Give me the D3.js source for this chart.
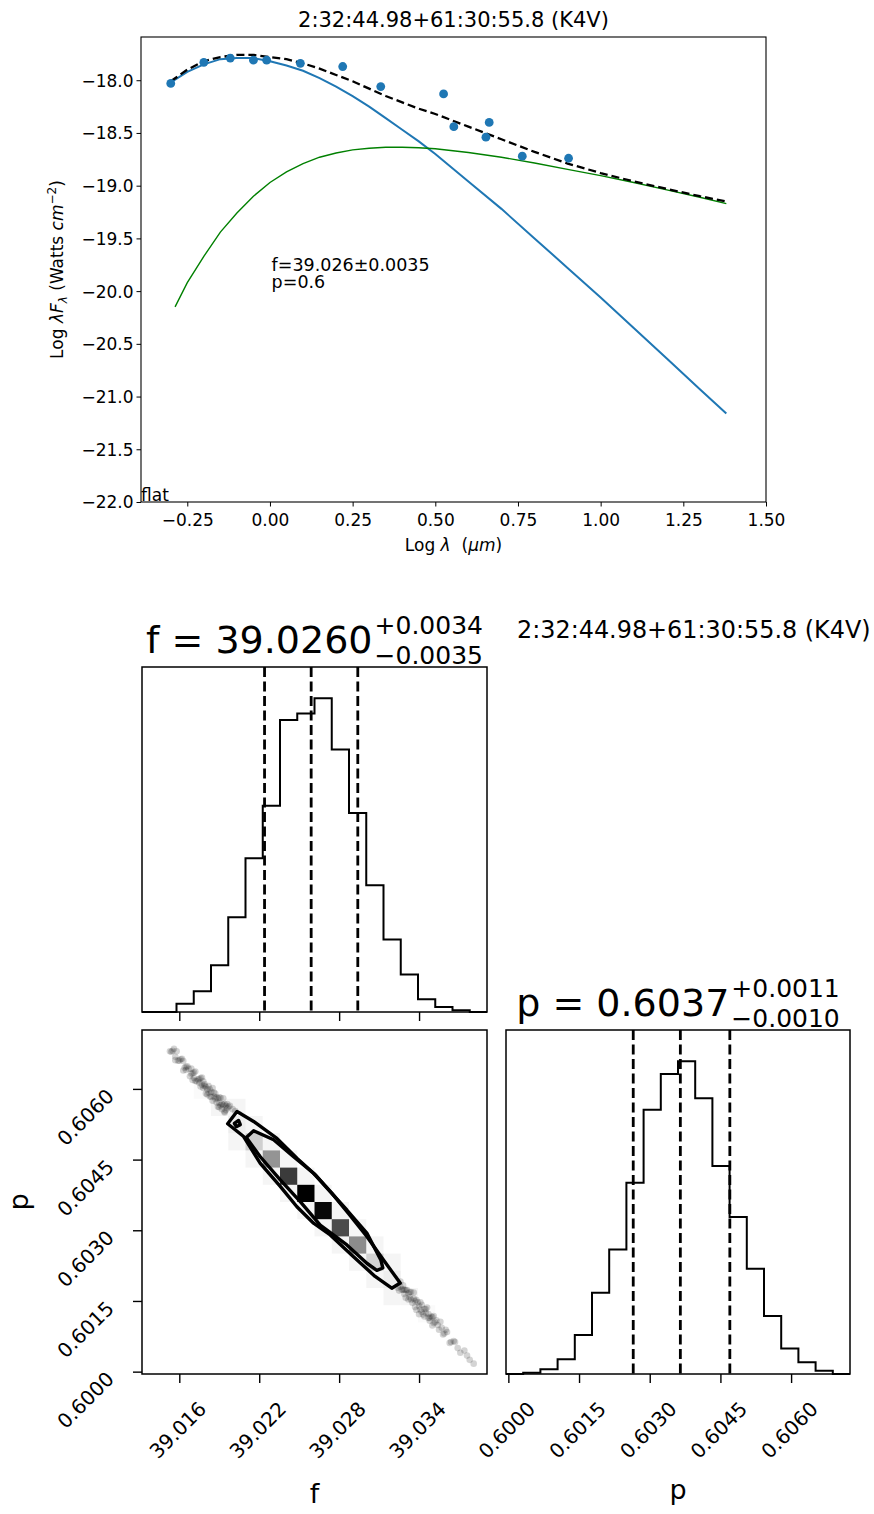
<!DOCTYPE html>
<html><head><meta charset="utf-8">
<script src="https://cdn.jsdelivr.net/npm/d3@7"></script>
<style>body{margin:0;background:#fff} svg text{font-family:"DejaVu Sans";white-space:pre;fill:#000}</style>
</head><body><svg id="c" width="874" height="1514"></svg>
<script>
// ---------------- DATA ----------------
const starTitle = "2:32:44.98+61:30:55.8 (K4V)";
// observed photometry (log lambda [um], log lambda F_lambda)
const obsLogLam  = [-0.30, -0.20, -0.12, -0.05, -0.01, 0.092, 0.22, 0.335, 0.525, 0.556, 0.653, 0.663, 0.763, 0.903];
const obsLogFlux = [-18.03, -17.83, -17.79, -17.81, -17.81, -17.84, -17.87, -18.06, -18.13, -18.44, -18.54, -18.40, -18.72, -18.74];
// stellar photosphere (blue)
const photoLogLam  = [-0.30,-0.25,-0.20,-0.15,-0.10,-0.05,0.00,0.05,0.10,0.15,0.20,0.25,0.30,0.35,0.40,0.45,0.50,0.60,0.70,0.80,0.90,1.00,1.10,1.20,1.30,1.38];
const photoLogFlux = [-18.02,-17.92,-17.85,-17.80,-17.79,-17.79,-17.82,-17.86,-17.91,-17.98,-18.06,-18.15,-18.25,-18.36,-18.47,-18.58,-18.70,-18.96,-19.22,-19.50,-19.78,-20.06,-20.35,-20.64,-20.93,-21.16];
// disk component (green)
const diskLogLam  = [-0.287,-0.25,-0.20,-0.15,-0.10,-0.05,0.00,0.05,0.10,0.15,0.20,0.25,0.30,0.35,0.40,0.45,0.50,0.60,0.70,0.80,0.90,1.00,1.10,1.20,1.30,1.38];
const diskLogFlux = [-20.15,-19.92,-19.67,-19.44,-19.26,-19.10,-18.97,-18.87,-18.79,-18.73,-18.69,-18.66,-18.645,-18.635,-18.635,-18.64,-18.65,-18.685,-18.73,-18.785,-18.845,-18.905,-18.97,-19.04,-19.11,-19.17];
// total model (black dashed)
const totalLogLam  = [-0.30,-0.25,-0.20,-0.15,-0.10,-0.05,0.00,0.05,0.10,0.15,0.20,0.25,0.30,0.35,0.40,0.45,0.50,0.55,0.60,0.65,0.70,0.80,0.90,1.00,1.10,1.20,1.30,1.38];
const totalLogFlux = [-18.01,-17.90,-17.82,-17.78,-17.76,-17.76,-17.78,-17.80,-17.84,-17.89,-17.95,-18.01,-18.08,-18.15,-18.21,-18.27,-18.32,-18.38,-18.44,-18.50,-18.56,-18.68,-18.79,-18.88,-18.96,-19.03,-19.10,-19.15];
const sedXTicks = [-0.25, 0.00, 0.25, 0.50, 0.75, 1.00, 1.25, 1.50];
const sedYTicks = [-22.0, -21.5, -21.0, -20.5, -20.0, -19.5, -19.0, -18.5, -18.0];
const fitNotes = ["f=39.026\u00b10.0035", "p=0.6"];
const modelTag = "flat";

// corner plot
const fRange = [39.0132, 39.0391];
const pRange = [0.59995, 0.60725];
const fTicks = [39.016, 39.022, 39.028, 39.034];
const pTicks = [0.6000, 0.6015, 0.6030, 0.6045, 0.6060];
const fHistCounts = [0,0,25,62,140,283,460,617,873,893,938,785,595,379,217,112,38,15,5,0];
const pHistCounts = [0,4,14,44,117,244,374,575,794,902,940,829,625,472,316,174,77,35,10,0];
const fQuantiles = [39.0224, 39.0259, 39.0294];
const pQuantiles = [0.60265, 0.60365, 0.60470];
const fSummary = {label:"f", value:"39.0260", plus:"0.0034", minus:"0.0035"};
const pSummary = {label:"p", value:"0.6037", plus:"0.0011", minus:"0.0010"};
// 2D density cells (bin index along f, bin index along p from bottom, darkness)
const cellFBin  = [3,4,5,6,7,8,9,10,11,12,13,14,15,16, 5,6,7,8,9,10,11,12,13,14, 5,6,7,8,9,10,11,12,13,14];
const cellPBin  = [16,15,14,13,12,11,10,9,8,7,6,5,4,3, 13,12,11,10,9,8,7,6,5,4, 15,14,13,12,11,10,9,8,7,6];
const cellShade = [0.02,0.04,0.07,0.19,0.42,0.77,1.0,0.97,0.70,0.45,0.18,0.07,0.04,0.02, 0.04,0.04,0.04,0.04,0.04,0.04,0.04,0.04,0.04,0.04, 0.04,0.04,0.04,0.04,0.04,0.04,0.04,0.04,0.04,0.04];
// contours
const outerF = [39.01963,39.02033,39.02158,39.02333,39.02483,39.0262,39.02745,39.0287,39.03008,39.03133,39.03258,39.03195,39.0307,39.02908,39.02733,39.02608,39.02483,39.02358,39.02208,39.02083];
const outerP = [0.60526,0.60552,0.60531,0.60495,0.60453,0.60418,0.60379,0.60336,0.60287,0.60237,0.60188,0.60177,0.60202,0.60244,0.6029,0.60315,0.6035,0.60393,0.60442,0.60499];
const innerF = [39.02103,39.02158,39.02308,39.02458,39.02608,39.02733,39.02858,39.03008,39.03113,39.03128,39.03083,39.03008,39.02858,39.02658,39.02508,39.02358,39.02208];
const innerP = [0.60497,0.60511,0.60492,0.60456,0.60421,0.60382,0.60343,0.60294,0.60237,0.6022,0.60215,0.6023,0.60269,0.60311,0.60361,0.60407,0.60456];
const smallF = [39.02013,39.02045,39.02058,39.02028];
const smallP = [0.60527,0.60533,0.60524,0.6052];
// samples outside the outer contour
const sampleF = [39.0154,39.0157,39.0155,39.0157,39.0160,39.0162,39.0164,39.0166,39.0168,39.0170,39.0172,39.0173,39.0175,39.0177,39.0178,39.0180,39.0181,39.0183,39.0184,39.0185,39.0187,39.0188,39.0189,39.0190,39.0191,39.0192,39.0193,39.0194,39.0195,39.0196,39.0158,39.0163,39.0169,39.0176,39.0179,39.0182,39.0186,39.0171,39.0165,39.0156,
  39.0153,39.0159,39.0161,39.0163,39.0165,39.0167,39.0169,39.0171,39.0172,39.0174,39.0175,39.0176,39.0178,39.0179,39.0180,39.0182,39.0183,39.0184,39.0186,39.0187,39.0188,39.0189,39.0190,39.0191,39.0192,39.0193,39.0194,39.0195,39.0196,39.0197,39.0198,39.0200,39.0202,39.0205,39.0181,39.0177,39.0170,39.0185,39.0190,39.0194,
  39.0322,39.0324,39.0326,39.0327,39.0329,39.0330,39.0331,39.0333,39.0334,39.0335,39.0337,39.0338,39.0339,39.0341,39.0342,39.0343,39.0345,39.0346,39.0347,39.0349,39.0350,39.0352,39.0353,39.0355,39.0357,39.0359,39.0361,39.0364,39.0367,39.0371,39.0374,39.0378,39.0336,39.0340,39.0344,39.0348,39.0351,39.0328,39.0332,39.0356,39.0363,
  39.0319,39.0321,39.0323,39.0325,39.0326,39.0328,39.0329,39.0330,39.0332,39.0333,39.0334,39.0336,39.0337,39.0338,39.0340,39.0341,39.0342,39.0344,39.0345,39.0347,39.0348,39.0350,39.0351,39.0354,39.0358,39.0360,39.0366,39.0369,39.0376,39.0381];
const sampleP = [0.60679,0.60668,0.60681,0.60661,0.60660,0.60664,0.60645,0.60648,0.60627,0.60633,0.60637,0.60616,0.60621,0.60609,0.60616,0.60590,0.60599,0.60599,0.60583,0.60602,0.60579,0.60582,0.60562,0.60582,0.60565,0.60568,0.60580,0.60552,0.60564,0.60568,0.60680,0.60639,0.60643,0.60605,0.60606,0.60592,0.60592,0.60623,0.60647,0.60685,
  0.60680,0.60660,0.60663,0.60659,0.60640,0.60643,0.60632,0.60635,0.60617,0.60620,0.60613,0.60623,0.60602,0.60610,0.60604,0.60606,0.60584,0.60594,0.60584,0.60590,0.60571,0.60580,0.60570,0.60581,0.60557,0.60566,0.60568,0.60555,0.60559,0.60562,0.60564,0.60557,0.60553,0.60546,0.60588,0.60624,0.60619,0.60575,0.60561,0.60550,
  0.60198,0.60178,0.60191,0.60174,0.60174,0.60157,0.60173,0.60158,0.60169,0.60146,0.60150,0.60131,0.60147,0.60132,0.60142,0.60121,0.60125,0.60136,0.60114,0.60117,0.60098,0.60105,0.60109,0.60089,0.60093,0.60081,0.60084,0.60063,0.60063,0.60040,0.60045,0.60025,0.60168,0.60122,0.60133,0.60114,0.60118,0.60174,0.60166,0.60106,0.60061,
  0.60202,0.60189,0.60193,0.60172,0.60180,0.60183,0.60165,0.60173,0.60153,0.60169,0.60153,0.60155,0.60137,0.60152,0.60139,0.60147,0.60127,0.60117,0.60133,0.60122,0.60108,0.60116,0.60103,0.60099,0.60079,0.60089,0.60065,0.60050,0.60034,0.60017];

// ---------------- SED PANEL ----------------
const svg = d3.select("#c");
const SX = [141, 766], SY = [502, 37];
const sx = d3.scaleLinear().domain([-0.39, 1.5]).range(SX);
const sy = d3.scaleLinear().domain([-22, -17.59]).range(SY);

svg.append("text").attr("x", (SX[0]+SX[1])/2).attr("y", 27).attr("text-anchor","middle")
  .attr("font-size", 21).text(starTitle);

const line = d3.line().x(d=>sx(d[0])).y(d=>sy(d[1]));
const zip = (a,b)=>a.map((v,i)=>[v,b[i]]);
const sed = svg.append("g");
sed.append("path").attr("d", line(zip(photoLogLam, photoLogFlux))).attr("fill","none").attr("stroke","#1f77b4").attr("stroke-width",2);
sed.append("path").attr("d", line(zip(diskLogLam, diskLogFlux))).attr("fill","none").attr("stroke","#008000").attr("stroke-width",1.4);
sed.append("path").attr("d", line(zip(totalLogLam, totalLogFlux))).attr("fill","none").attr("stroke","#000").attr("stroke-width",2.3).attr("stroke-dasharray","8,4");
sed.selectAll("circle").data(zip(obsLogLam, obsLogFlux)).join("circle")
  .attr("cx", d=>sx(d[0])).attr("cy", d=>sy(d[1])).attr("r", 4.4).attr("fill","#1f77b4");

const gx = svg.append("g").attr("transform",`translate(0,${SY[0]})`)
  .call(d3.axisBottom(sx).tickValues(sedXTicks).tickSize(4.5).tickFormat(d3.format(".2f")));
gx.select(".domain").remove();
gx.selectAll("text").attr("font-size",17).attr("font-family","DejaVu Sans").attr("dy",null).attr("y",24);
gx.selectAll("line").attr("stroke","#000");
const gy = svg.append("g").attr("transform",`translate(${SX[0]},0)`)
  .call(d3.axisLeft(sy).tickValues(sedYTicks).tickSize(4.5).tickFormat(d3.format(".1f")));
gy.select(".domain").remove();
gy.selectAll("text").attr("font-size",17).attr("font-family","DejaVu Sans").attr("x",-7.5).attr("dy","0.35em");
svg.append("rect").attr("x",SX[0]).attr("y",SY[1]).attr("width",SX[1]-SX[0]).attr("height",SY[0]-SY[1])
  .attr("fill","none").attr("stroke","#000").attr("stroke-width",1.1);

svg.append("text").attr("x", sx(0.005)).attr("y", 271).attr("font-size",17.5).text(fitNotes[0]);
svg.append("text").attr("x", sx(0.005)).attr("y", 288).attr("font-size",17.5).text(fitNotes[1]);
svg.append("text").attr("x", SX[0]).attr("y", 501).attr("font-size",17).text(modelTag);

// axis labels
const xl = svg.append("text").attr("x",(SX[0]+SX[1])/2).attr("y",551).attr("text-anchor","middle").attr("font-size",17);
xl.append("tspan").text("Log ");
xl.append("tspan").attr("font-style","italic").text("\u03bb");
xl.append("tspan").text("  (");
xl.append("tspan").attr("font-style","italic").text("\u03bcm");
xl.append("tspan").text(")");
const yl = svg.append("text").attr("transform",`translate(63,${(SY[0]+SY[1])/2}) rotate(-90)`).attr("text-anchor","middle").attr("font-size",17);
yl.append("tspan").text("Log ");
yl.append("tspan").attr("font-style","italic").text("\u03bbF");
yl.append("tspan").attr("font-style","italic").attr("font-size",12).attr("dy",4).text("\u03bb");
yl.append("tspan").attr("dy",-4).text(" (Watts ");
yl.append("tspan").attr("font-style","italic").text("cm");
yl.append("tspan").attr("font-size",12).attr("dy",-7).text("\u22122");
yl.append("tspan").attr("dy",7).text(")");

// ---------------- CORNER PLOT ----------------
const P00 = {x0:142, x1:487, y0:667, y1:1012};
const P10 = {x0:142, x1:487, y0:1030, y1:1374};
const P11 = {x0:506, x1:850, y0:1030, y1:1374};
const fx = d3.scaleLinear().domain(fRange).range([P00.x0, P00.x1]);
const px2 = d3.scaleLinear().domain(pRange).range([P10.y1, P10.y0]);
const pxh = d3.scaleLinear().domain(pRange).range([P11.x0, P11.x1]);
const NB = 20;
const fEdges = d3.range(NB+1).map(k => fRange[0] + k*(fRange[1]-fRange[0])/NB);
const pEdges = d3.range(NB+1).map(k => pRange[0] + k*(pRange[1]-pRange[0])/NB);

function stepPath(edges, counts, xs, ys){
  const pts = [[edges[0],0]];
  counts.forEach((c,i)=>{ pts.push([edges[i],c]); pts.push([edges[i+1],c]); });
  pts.push([edges[NB],0]);
  return d3.line().x(d=>xs(d[0])).y(d=>ys(d[1]))(pts);
}
function histPanel(P, xs, edges, counts, quants){
  const ys = d3.scaleLinear().domain([0, 1.1*d3.max(counts)]).range([P.y1, P.y0]);
  const g = svg.append("g");
  g.append("path").attr("d", stepPath(edges, counts, xs, ys)).attr("fill","none").attr("stroke","#000").attr("stroke-width",2);
  g.selectAll("line.q").data(quants).join("line").attr("class","q")
    .attr("x1",d=>xs(d)).attr("x2",d=>xs(d)).attr("y1",P.y0).attr("y2",P.y1)
    .attr("stroke","#000").attr("stroke-width",2.8).attr("stroke-dasharray","10,4.5");
  g.append("rect").attr("x",P.x0).attr("y",P.y0).attr("width",P.x1-P.x0).attr("height",P.y1-P.y0)
    .attr("fill","none").attr("stroke","#000").attr("stroke-width",1.5);
}
histPanel(P00, fx, fEdges, fHistCounts, fQuantiles);
histPanel(P11, pxh, pEdges, pHistCounts, pQuantiles);

// 2D panel
const defs = svg.append("defs");
defs.append("clipPath").attr("id","clip2").append("rect").attr("x",P10.x0).attr("y",P10.y0).attr("width",P10.x1-P10.x0).attr("height",P10.y1-P10.y0);
defs.append("filter").attr("id","soft").append("feGaussianBlur").attr("stdDeviation",0.6);
const g2 = svg.append("g");
const inner2 = g2.append("g").attr("clip-path","url(#clip2)");
inner2.append("g").attr("filter","url(#soft)").selectAll("circle").data(zip(sampleF, sampleP)).join("circle")
  .attr("cx",d=>fx(d[0])).attr("cy",d=>px2(d[1])).attr("r",3.3).attr("fill","#000").attr("fill-opacity",0.17);
const poly = d3.line().x(d=>fx(d[0])).y(d=>px2(d[1])).curve(d3.curveLinearClosed);
inner2.append("path").attr("d", poly(zip(outerF, outerP))).attr("fill","#fff");
inner2.selectAll("rect.cell").data(cellFBin.map((b,i)=>[b, cellPBin[i], cellShade[i]])).join("rect").attr("class","cell")
  .attr("x", d=>fx(fEdges[d[0]])).attr("width", d=>fx(fEdges[d[0]+1])-fx(fEdges[d[0]]))
  .attr("y", d=>px2(pEdges[d[1]+1])).attr("height", d=>px2(pEdges[d[1]])-px2(pEdges[d[1]+1]))
  .attr("fill","#000").attr("fill-opacity", d=>d[2]);
[[outerF,outerP],[innerF,innerP],[smallF,smallP]].forEach(([a,b])=>{
  inner2.append("path").attr("d", poly(zip(a,b))).attr("fill","none").attr("stroke","#000").attr("stroke-width",3.4).attr("stroke-linejoin","round");
});
g2.append("rect").attr("x",P10.x0).attr("y",P10.y0).attr("width",P10.x1-P10.x0).attr("height",P10.y1-P10.y0)
  .attr("fill","none").attr("stroke","#000").attr("stroke-width",1.5);

// axes of corner
function styleTicks(g){ g.select(".domain").remove(); g.selectAll("line").attr("stroke","#000").attr("stroke-width",1.4); }
const ax00 = svg.append("g").attr("transform",`translate(0,${P00.y1})`).call(d3.axisBottom(fx).tickValues(fTicks).tickSize(9).tickFormat(""));
styleTicks(ax00);
const ax10x = svg.append("g").attr("transform",`translate(0,${P10.y1})`).call(d3.axisBottom(fx).tickValues(fTicks).tickSize(9).tickFormat(d3.format(".3f")));
styleTicks(ax10x);
const ax11x = svg.append("g").attr("transform",`translate(0,${P11.y1})`).call(d3.axisBottom(pxh).tickValues(pTicks).tickSize(9).tickFormat(d3.format(".4f")));
styleTicks(ax11x);
[ax10x, ax11x].forEach(a=>{
  a.selectAll("text").attr("font-size",20).attr("font-family","DejaVu Sans").attr("x",-2).attr("y",56).attr("dy",null)
    .attr("dominant-baseline","central").attr("text-anchor","middle").attr("transform","rotate(-45,-2,56)");
});
const ax10y = svg.append("g").attr("transform",`translate(${P10.x0},0)`).call(d3.axisLeft(px2).tickValues(pTicks).tickSize(9).tickFormat(d3.format(".4f")));
styleTicks(ax10y);
ax10y.selectAll("text").attr("font-size",20).attr("font-family","DejaVu Sans").attr("x",-56.5).attr("y",28).attr("dy",null)
  .attr("dominant-baseline","central").attr("text-anchor","middle").attr("transform","rotate(-45,-56.5,28)");

svg.append("text").attr("x",(P10.x0+P10.x1)/2).attr("y",1503).attr("text-anchor","middle").attr("font-size",27).text(fSummary.label);
svg.append("text").attr("x",(P11.x0+P11.x1)/2).attr("y",1499).attr("text-anchor","middle").attr("font-size",27).text(pSummary.label);
svg.append("text").attr("transform",`translate(28,${(P10.y0+P10.y1)/2}) rotate(-90)`).attr("text-anchor","middle").attr("font-size",27).text(pSummary.label);

function cornerTitle(P, s){
  const g = svg.append("g");
  const top = P.y0;
  const main = g.append("text").attr("font-size",38).attr("y",top-14).text(`${s.label} = ${s.value}`);
  const sup = g.append("text").attr("font-size",25).attr("y",top-33).text("+"+s.plus);
  const sub = g.append("text").attr("font-size",25).attr("y",top-3.5).text("\u2212"+s.minus);
  const w1 = main.node().getComputedTextLength();
  const w2 = Math.max(sup.node().getComputedTextLength(), sub.node().getComputedTextLength());
  const x0 = (P.x0+P.x1)/2 - (w1+2+w2)/2;
  main.attr("x",x0); sup.attr("x",x0+w1+2); sub.attr("x",x0+w1+2);
}
cornerTitle(P00, fSummary);
cornerTitle(P11, pSummary);
svg.append("text").attr("x",517).attr("y",638).attr("font-size",23.9).text(starTitle);
</script></body></html>
